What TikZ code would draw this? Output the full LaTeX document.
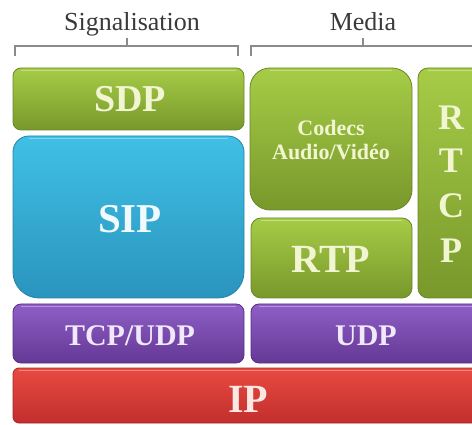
\documentclass[tikz,border=0pt]{standalone}
\usepackage{fontspec}
\setmainfont{Liberation Serif}
\definecolor{grnTop}{HTML}{A6CC47}
\definecolor{grnBot}{HTML}{78982B}
\definecolor{grnEdge}{HTML}{6A8626}
\definecolor{grnText}{HTML}{F1F5D2}
\definecolor{bluTop}{HTML}{40C0E6}
\definecolor{bluBot}{HTML}{2A94BD}
\definecolor{bluEdge}{HTML}{2383A8}
\definecolor{bluText}{HTML}{F0FAFD}
\definecolor{purTop}{HTML}{8F5FC6}
\definecolor{purBot}{HTML}{643895}
\definecolor{purEdge}{HTML}{573083}
\definecolor{purText}{HTML}{F1E8FA}
\definecolor{redTop}{HTML}{E84A41}
\definecolor{redBot}{HTML}{C22F2D}
\definecolor{redEdge}{HTML}{A82626}
\definecolor{redText}{HTML}{FCE8E3}
\definecolor{brk}{HTML}{8A8A8A}
\definecolor{hdr}{HTML}{3A3A3A}
\tikzset{
  layer/.style={line width=0.8pt},
  greenbox/.style={layer, draw=grnEdge, top color=grnTop, bottom color=grnBot},
  bluebox/.style={layer, draw=bluEdge, top color=bluTop, bottom color=bluBot},
  purplebox/.style={layer, draw=purEdge, top color=purTop, bottom color=purBot},
  redbox/.style={layer, draw=redEdge, top color=redTop, bottom color=redBot},
  shine/.style={line width=1pt, white, opacity=0.35},
  brace/.style={draw=brk, line width=1.3pt},
  header/.style={anchor=base, text=hdr, font=\fontsize{26}{28}\selectfont},
  lbl/.style={anchor=base, inner sep=0pt, font=\bfseries},
}
\begin{document}
\begin{tikzpicture}[x=1pt,y=-1pt]
\clip (0,0) rectangle (472,425);
\fill[white] (0,0) rectangle (472,425);

% column headings with their brackets
\node[header] (hsig) at (132,31) {Signalisation};
\node[header] (hmed) at (363,31) {Media};
\draw[brace] (15,56) -- (15,46) -- (238,46) -- (238,56);
\draw[brace] (127,46) -- (127,38);
\draw[brace] (251,56) -- (251,46) -- (480,46);
\draw[brace] (363,46) -- (363,38);

% signalling column (y axis points down, so angles run clockwise on the page)
\path[greenbox, rounded corners=8pt] (13,68) rectangle (244,130);
\path[bluebox]
  (13,152) arc[start angle=180, end angle=270, radius=16]
  -- (228,136) arc[start angle=-90, end angle=0, radius=16]
  -- (244,272) arc[start angle=0, end angle=90, radius=26]
  -- (39,298) arc[start angle=90, end angle=180, radius=26]
  -- cycle;
% media column
\path[greenbox, rounded corners=20pt] (250,68) rectangle (412,210);
\path[greenbox, rounded corners=10pt] (251,218) rectangle (412,298);
\path[greenbox, rounded corners=10pt] (418,68) rectangle (490,298);
% transport layer
\path[purplebox, rounded corners=8pt] (13,304) rectangle (244,363);
\path[purplebox, rounded corners=8pt] (251,304) rectangle (490,363);
% network layer
\path[redbox, rounded corners=6pt] (13,368) rectangle (490,423);

% light rim along the top of each block
\draw[shine] (21,70.5) -- (236,70.5);
\draw[shine] (29,138.5) -- (228,138.5);
\draw[shine] (270,70.5) -- (392,70.5);
\draw[shine] (261,220.5) -- (402,220.5);
\draw[shine] (428,70.5) -- (480,70.5);
\draw[shine] (21,306.5) -- (236,306.5);
\draw[shine] (259,306.5) -- (480,306.5);
\draw[shine] (19,370.5) -- (480,370.5);

% block labels
\node[lbl, text=grnText, font=\bfseries\fontsize{38}{40}\selectfont] (sdp) at (130,112) {SDP};
\node[lbl, text=bluText, font=\bfseries\fontsize{41}{43}\selectfont] (sip) at (130,233) {SIP};
\node[lbl, text=grnText, font=\bfseries\fontsize{22}{24}\selectfont] (codecs) at (331,136) {Codecs};
\node[lbl, text=grnText, font=\bfseries\fontsize{22}{24}\selectfont] (av) at (331,160) {Audio/Vidéo};
\node[lbl, text=grnText, font=\bfseries\fontsize{40}{42}\selectfont] (rtp) at (331,273) {RTP};
\node[lbl, text=grnText, font=\bfseries\fontsize{36}{38}\selectfont] (r1) at (451,130) {R};
\node[lbl, text=grnText, font=\bfseries\fontsize{36}{38}\selectfont] (r2) at (451,173) {T};
\node[lbl, text=grnText, font=\bfseries\fontsize{36}{38}\selectfont] (r3) at (451,218) {C};
\node[lbl, text=grnText, font=\bfseries\fontsize{36}{38}\selectfont] (r4) at (451,263) {P};
\node[lbl, text=purText, font=\bfseries\fontsize{30}{32}\selectfont] (tcpudp) at (130,345) {TCP/UDP};
\node[lbl, text=purText, font=\bfseries\fontsize{30}{32}\selectfont] (udp) at (366,345) {UDP};
\node[lbl, text=redText, font=\bfseries\fontsize{40}{42}\selectfont] (ip) at (248,413) {IP};
\end{tikzpicture}
\end{document}
